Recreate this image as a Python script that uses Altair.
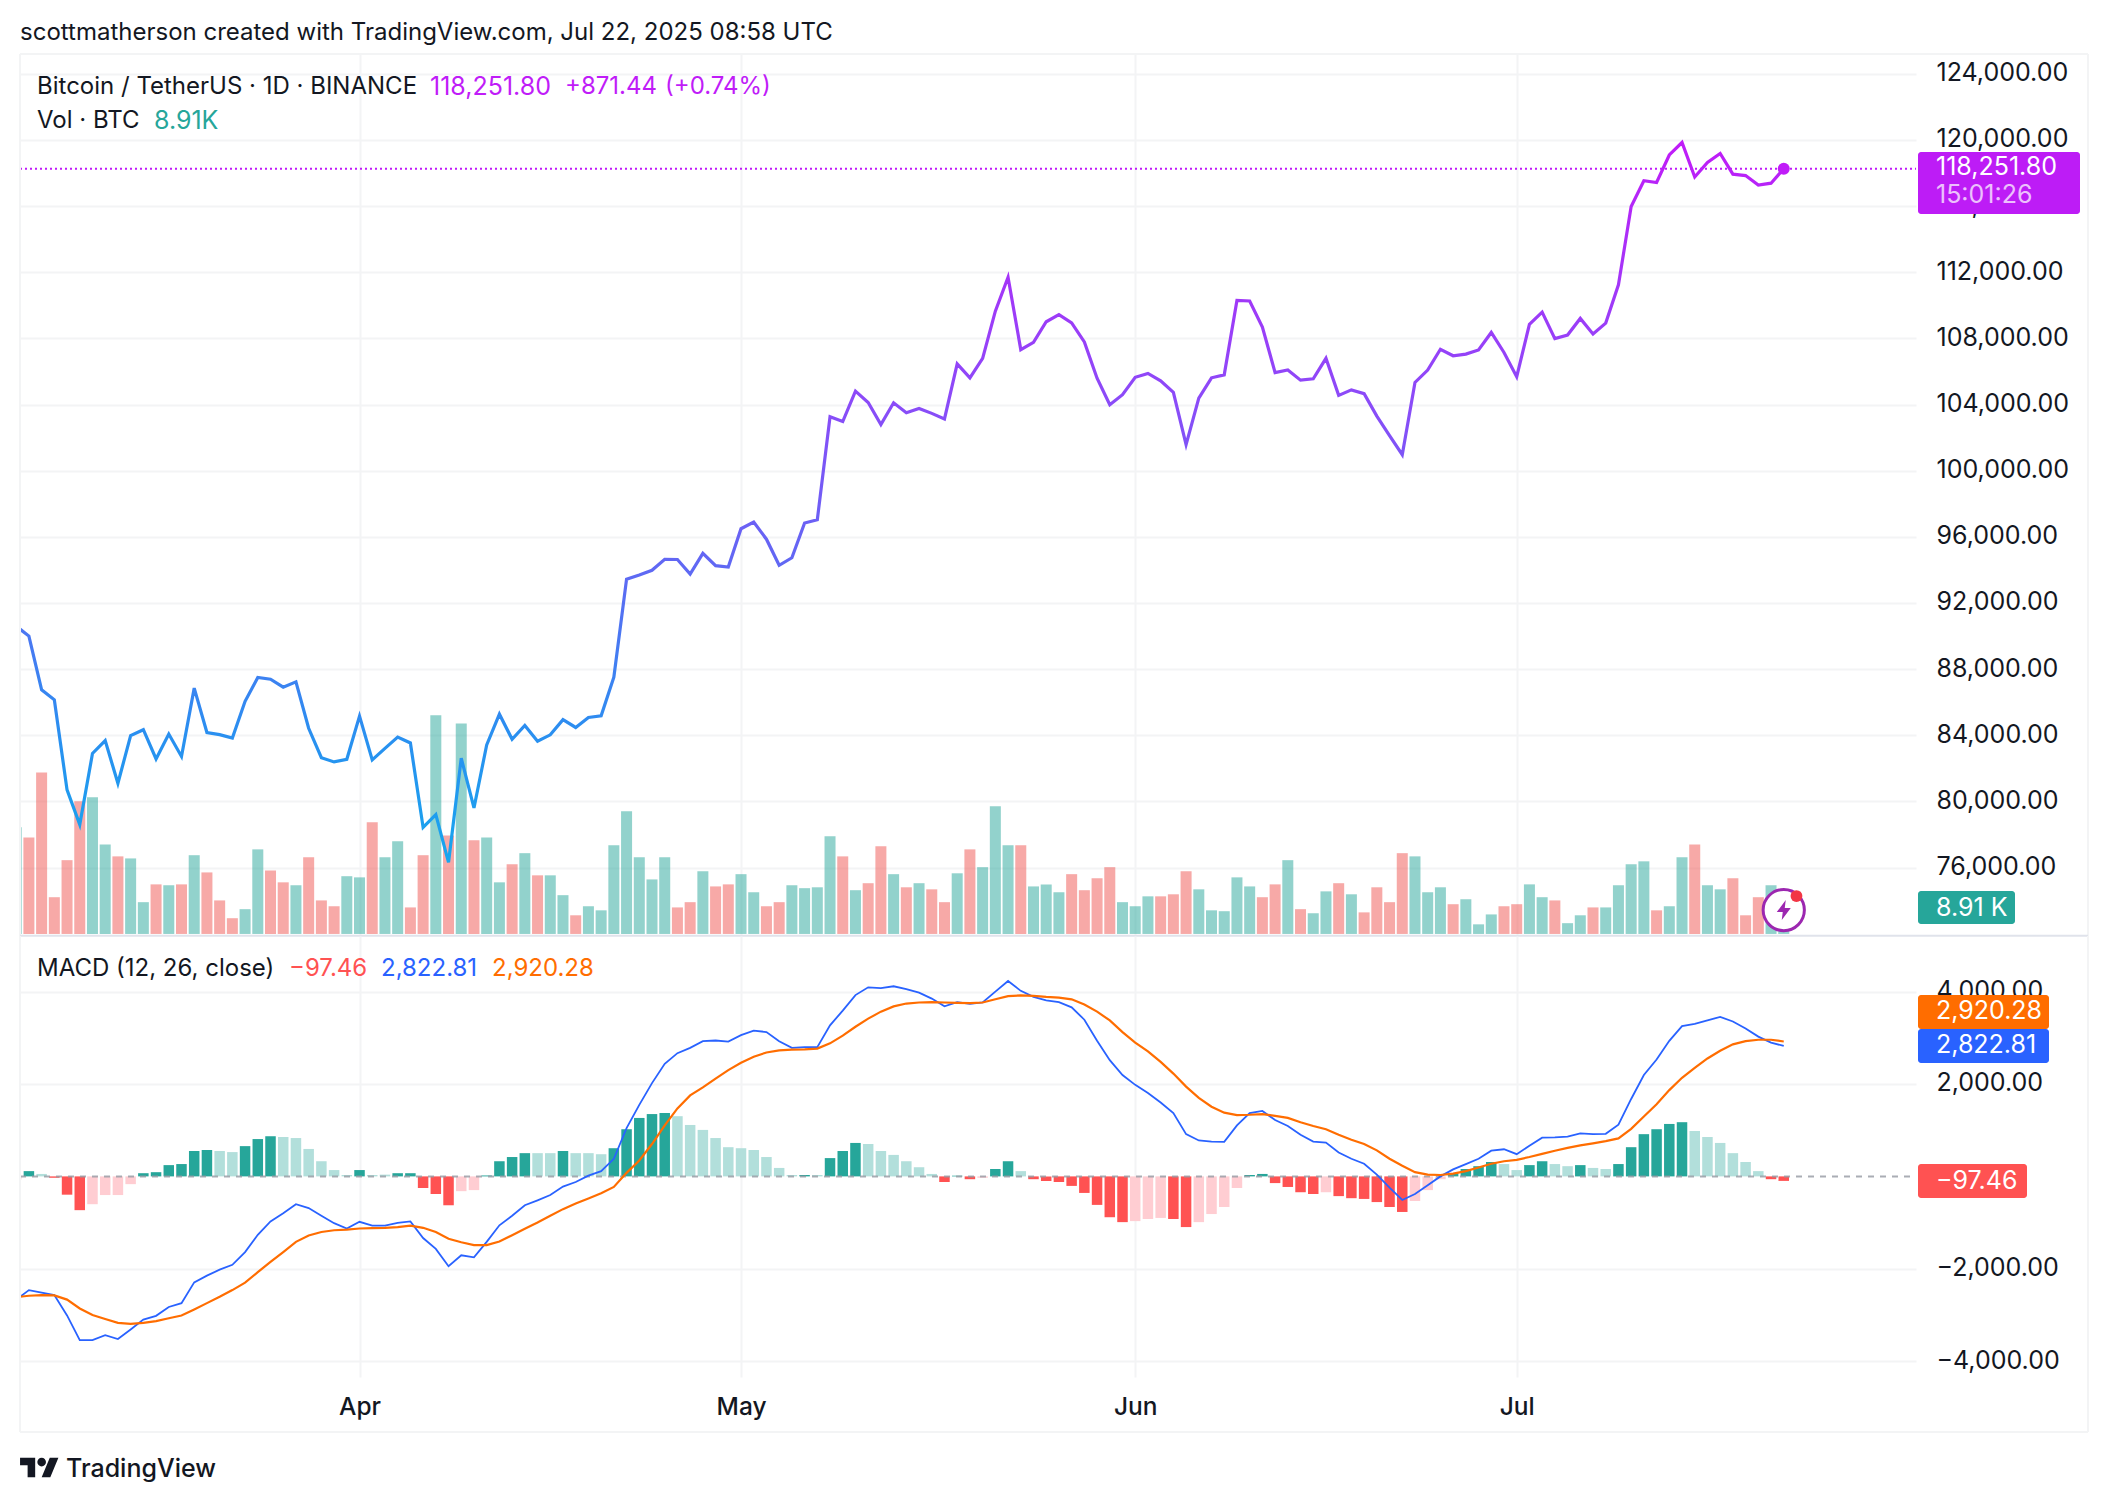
import altair as alt
import pandas as pd

FONT = "Inter"
INK = "#131722"
SZ = 24
NUM = 25
TEAL = "#26a69a"
RED = "#ef5350"

dates = [d.strftime("%Y-%m-%d") for d in pd.date_range("2025-03-05", "2025-07-22")]

close = [
    90600, 90000, 86747, 86150, 80700, 78600, 82900, 83680, 81100, 83980, 84340, 82570, 84075, 82718,
    86854, 84167, 84043, 83832, 86054, 87498, 87392, 86909, 87232, 84424, 82648, 82390, 82550,
    85158, 82516, 83213, 83889, 83537, 78430, 79207, 76322, 82615, 79607, 83423, 85276, 83760, 84591,
    83643, 84030, 84947, 84474, 85077, 85179, 87516, 93442, 93691, 93980, 94638, 94628, 93750, 95000,
    94256, 94172,
    96489, 96887, 95856, 94277, 94733, 96834, 97032, 103261, 102971, 104809, 104118, 102791, 104103,
    103507, 103763, 103463, 103126, 106454, 105606, 106791, 109643, 111696, 107318, 107761, 109004,
    109434, 108938, 107781, 105589, 103985, 104591,
    105642, 105882, 105432, 104731, 101575, 104390, 105615, 105793, 110295, 110257, 108686, 105929,
    106090, 105472, 105552, 106794, 104551, 104886, 104658, 103298, 102120, 100963, 105333, 106083,
    107340, 106947, 107047, 107296, 108356, 107146,
    105681, 108849, 109584, 107984, 108198, 109203, 108262, 108922, 111233, 115969, 117527, 117420,
    119086, 119841, 117758, 118630, 119177, 117924, 117840, 117265, 117380, 118251.8,
]

volume = [
    36.6, 33.1, 55.4, 12.6, 25.3, 45.5, 46.9, 30.7, 26.6, 25.9, 10.9, 17.0, 16.7, 17.0, 27.0, 21.1, 11.5,
    5.4, 8.5, 29.0, 21.8, 17.7, 16.7, 26.3, 11.5, 9.5, 19.8,
    19.4, 38.3, 26.3, 31.8, 9.1, 27.0, 75.0, 33.8, 72.2, 32.1, 33.1, 17.7, 23.9, 27.7, 20.1, 20.1, 13.3,
    6.4, 9.5, 8.1, 30.4, 42.1, 26.3, 18.7, 26.3, 9.1, 10.9, 21.5, 16.3, 17.0,
    20.5, 14.3, 9.5, 10.9, 16.7, 15.7, 16.0, 33.5, 26.6, 15.0, 17.4, 30.1, 20.5, 16.0, 17.4, 15.3, 10.9,
    20.8, 29.0, 22.9, 43.8, 30.4, 30.4, 16.3, 17.0, 14.3, 20.5, 15.0, 19.1, 22.9, 10.9,
    9.5, 12.9, 12.9, 13.6, 21.5, 15.3, 8.1, 7.8, 19.4, 16.3, 12.6, 17.0, 25.3, 8.5, 7.1, 14.6, 17.4, 13.6,
    7.4, 16.0, 10.9, 27.7, 26.6, 14.3, 16.0, 10.2, 11.9, 3.3, 6.7, 9.5,
    10.2, 17.0, 12.6, 11.5, 3.7, 6.4, 9.1, 9.1, 16.7, 23.9, 24.9, 8.1, 9.5, 26.3, 30.7, 16.7, 15.3, 19.1,
    6.4, 12.6, 16.7, 8.91,
]

vol_up = (
    "U" "D" "D" "D" "D" "D" "U" "U" "D" "U" "U" "D" "U" "D" "U" "D" "D" "D" "U" "U" "D" "D" "U" "D" "D" "D" "U"
    "U" "D" "U" "U" "D" "D" "U" "D" "U" "D" "U" "U" "D" "U" "D" "U" "U" "D" "U" "U" "U" "U" "U" "U" "U" "D" "D" "U" "D" "D"
    "U" "U" "D" "D" "U" "U" "U" "U" "D" "U" "D" "D" "U" "D" "U" "D" "D" "U" "D" "U" "U" "U" "D" "U" "U" "U" "D" "D" "D" "D" "U"
    "U" "U" "D" "D" "D" "U" "U" "U" "U" "U" "D" "D" "U" "D" "U" "U" "D" "U" "D" "D" "D" "D" "U" "U" "U" "D" "U" "U" "U" "D"
    "D" "U" "U" "D" "U" "U" "D" "U" "U" "U" "U" "D" "U" "U" "D" "U" "U" "D" "D" "D" "U" "U"
)

macd = [
    -2667, -2461, -2515, -2568, -3010, -3543, -3543, -3437, -3520, -3315, -3101, -3018, -2827, -2743,
    -2294, -2149, -2019, -1913, -1638, -1265, -975, -800, -602, -686, -853, -1013, -1128,
    -983, -1067, -1067, -1006, -975, -1334, -1570, -1943, -1707, -1753, -1417, -1059, -853, -625, -518,
    -404, -221, -122, 15, 114, 381, 1044, 1547, 2019, 2438, 2667, 2781, 2926, 2941, 2918,
    3056, 3155, 3124, 2926, 2781, 2797, 2797, 3269, 3589, 3924, 4092, 4077, 4115, 4054, 3978, 3848, 3680,
    3772, 3734, 3764, 4000, 4229, 4016, 3886, 3810, 3772, 3658, 3391, 2934, 2515, 2195,
    1981, 1806, 1600, 1372, 914, 777, 754, 747, 1105, 1372, 1417, 1219, 1090, 899, 754, 732, 518, 381, 274,
    38, -244, -511, -381, -191, 0, 152, 267, 381, 556, 587,
    480, 663, 838, 846, 861, 930, 914, 922, 1120, 1676, 2195, 2530, 2934, 3254, 3299, 3376, 3452, 3353,
    3200, 3025, 2896, 2822.81,
]

signal = [
    -2614, -2583, -2568, -2576, -2667, -2858, -3002, -3086, -3170, -3193, -3170, -3132, -3071, -3010,
    -2880, -2743, -2606, -2461, -2301, -2073, -1852, -1638, -1417, -1280, -1204, -1166, -1151,
    -1128, -1120, -1113, -1097, -1067, -1113, -1204, -1349, -1425, -1486, -1486, -1410, -1273, -1135, -998,
    -853, -709, -587, -480, -366, -229, 76, 343, 701, 1105, 1471, 1753, 1928, 2118, 2301,
    2461, 2591, 2682, 2728, 2743, 2751, 2766, 2880, 3048, 3239, 3414, 3566, 3680, 3741, 3764, 3772, 3764,
    3757, 3749, 3764, 3833, 3901, 3917, 3909, 3886, 3871, 3833, 3719, 3566, 3376, 3124,
    2896, 2705, 2477, 2225, 1943, 1699, 1509, 1379, 1326, 1334, 1349, 1311, 1265, 1173, 1090, 1021, 899,
    792, 701, 564, 381, 229, 91, 38, 30, 61, 114, 191, 274, 328,
    358, 419, 488, 556, 617, 671, 716, 762, 823, 1029, 1295, 1562, 1867, 2134, 2347, 2553, 2720, 2858,
    2926, 2957, 2957, 2920.28,
]

hist = [
    -70, 114, 53, -30, -396, -731, -602, -404, -404, -168, 69, 91, 244, 267, 549, 571, 549, 526, 655, 808,
    869, 853, 830, 594, 328, 137, 30,
    137, 30, 38, 69, 69, -251, -381, -625, -320, -297, 20, 328, 419, 503, 503, 503, 549, 503, 503, 480, 610,
    1021, 1265, 1349, 1372, 1303, 1113, 1006, 830, 632,
    610, 571, 419, 183, 30, 30, 30, 396, 549, 724, 701, 549, 465, 328, 198, 53, -122, 15, -61, -30, 160, 328,
    114, -61, -99, -122, -206, -358, -617, -884, -990,
    -968, -922, -899, -922, -1097, -990, -815, -663, -251, 30, 53, -145, -229, -343, -381, -343, -427, -472,
    -488, -556, -663, -770, -533, -297, -61, 69, 160, 221, 312, 267,
    137, 244, 328, 267, 221, 244, 183, 160, 267, 632, 914, 1021, 1135, 1173, 983, 853, 724, 503, 312, 114,
    -61, -97.46,
]

# D rising above zero, L falling above zero, P rising below zero, R falling below zero
hist_kind = (
    "P" "D" "L" "R" "R" "R" "P" "P" "P" "P" "D" "D" "D" "D" "D" "D" "L" "L" "D" "D" "D" "L" "L" "L" "L" "L" "L"
    "D" "L" "L" "D" "D" "R" "R" "R" "P" "P" "D" "D" "D" "D" "L" "L" "D" "L" "L" "L" "D" "D" "D" "D" "D" "L" "L" "L" "L" "L"
    "L" "L" "L" "L" "L" "D" "L" "D" "D" "D" "L" "L" "L" "L" "L" "L" "R" "D" "R" "P" "D" "D" "L" "R" "R" "R" "R" "R" "R" "R" "R"
    "P" "P" "P" "R" "R" "P" "P" "P" "P" "D" "D" "R" "R" "R" "R" "P" "R" "R" "R" "R" "R" "R" "P" "P" "P" "D" "D" "D" "D" "L"
    "L" "D" "D" "L" "L" "D" "L" "L" "D" "D" "D" "D" "D" "D" "L" "L" "L" "L" "L" "L" "R" "R"
)

price_ticks = [76000, 80000, 84000, 88000, 92000, 96000, 100000, 104000, 108000, 112000, 116000, 120000, 124000]
macd_ticks = [-4000, -2000, 2000, 4000]
month_ticks = ["2025-04-01", "2025-05-01", "2025-06-01", "2025-07-01"]

assert all(len(s) == 140 for s in (dates, close, volume, vol_up, macd, signal, hist, hist_kind))

df = pd.DataFrame({
    "date": dates, "close": close, "volume": volume, "dir": list(vol_up),
    "macd": macd, "signal": signal, "hist": hist, "kind": list(hist_kind),
})

W, H1, H2 = 1896, 882, 441
GRID = "#f3f4f5"
ms = lambda s: int(pd.Timestamp(s, tz="UTC").value // 10**6)
x_scale = alt.Scale(type="utc", domain=[ms("2025-03-05 07:12"), ms("2025-08-01 09:36")], padding=0)
month_vals = [ms(m) for m in month_ticks]
price_scale = alt.Scale(domain=[71866, 125191], nice=False, zero=False)
vol_scale = alt.Scale(domain=[-0.7, 301.7], nice=False, zero=False)
macd_scale = alt.Scale(domain=[-4342, 5203], nice=False, zero=False)

x_top = alt.X("date:T", scale=x_scale, title=None,
              axis=alt.Axis(values=month_vals, labels=False, ticks=False, domain=False, grid=True,
                            gridColor=GRID, gridWidth=2))
x_bot = alt.X("date:T", scale=x_scale, title=None,
              axis=alt.Axis(values=month_vals, format="%b", ticks=False, domain=False, grid=True,
                            gridColor=GRID, gridWidth=2, labelFont=FONT, labelFontSize=24.5, labelFontWeight=500,
                            labelColor=INK, labelPadding=18, labelFlush=False))


def y_axis(vals):
    return alt.Axis(values=vals, format=",.2f", orient="right", ticks=False, domain=False, grid=True,
                    gridColor=GRID, gridWidth=2, labelFont=FONT, labelFontSize=NUM, labelColor=INK,
                    labelPadding=20, labelOffset=-1, title=None, labelOverlap=False)


one = pd.DataFrame({"a": [0]})


def txt(s, x, y, color=INK, size=SZ, weight=400, opacity=1.0):
    return alt.Chart(pd.DataFrame({"t": [s]})).mark_text(
        align="left", baseline="middle", font=FONT, fontSize=size, fontWeight=weight, color=color, opacity=opacity
    ).encode(x=alt.value(x), y=alt.value(y), text="t:N")


def box(x, x2, y, y2, color):
    return alt.Chart(one).mark_rect(color=color, cornerRadius=3).encode(
        x=alt.value(x), x2=alt.value(x2), y=alt.value(y), y2=alt.value(y2))


def hline(x, x2, y, color, width=2):
    return alt.Chart(one).mark_rule(color=color, strokeWidth=width).encode(
        x=alt.value(x), x2=alt.value(x2), y=alt.value(y))


def vline(x, y, y2, color, width=2):
    return alt.Chart(one).mark_rule(color=color, strokeWidth=width).encode(
        x=alt.value(x), y=alt.value(y), y2=alt.value(y2))


last = df.tail(1)
base = alt.Chart(df)

gradient = alt.Gradient(
    gradient="linear", x1=0, x2=0, y1=1, y2=0,
    stops=[
        alt.GradientStop(color="#17a6ee", offset=0),
        alt.GradientStop(color="#2a8ff0", offset=0.18),
        alt.GradientStop(color="#5a6cf3", offset=0.38),
        alt.GradientStop(color="#8b4bf8", offset=0.64),
        alt.GradientStop(color="#c01cf8", offset=1),
    ],
)

dotted = alt.Chart(pd.DataFrame({"p": [118251.8]})).mark_rule(
    color="#c01cf8", strokeWidth=2, strokeDash=[2, 3]
).encode(y=alt.Y("p:Q", scale=price_scale, axis=y_axis(price_ticks)), x=alt.value(0), x2=alt.value(W))

bars = base.mark_bar(size=11, opacity=0.5, clip=True).encode(
    x=x_top,
    y=alt.Y("volume:Q", scale=vol_scale, axis=None, stack=None),
    color=alt.Color("dir:N", scale=alt.Scale(domain=["U", "D"], range=[TEAL, RED]), legend=None),
)
price_line = base.mark_line(color=gradient, strokeWidth=3.2, clip=True).encode(
    x=x_top, y=alt.Y("close:Q", scale=price_scale, axis=None))
dot = alt.Chart(last).mark_point(filled=True, color="#c01cf8", size=144, opacity=1).encode(
    x=x_top, y=alt.Y("close:Q", scale=price_scale, axis=None))

ring = alt.Chart(last).mark_point(filled=True, fill="white", stroke="#9c27b0", strokeWidth=3, size=1700, opacity=1).encode(
    x=x_top, y=alt.Y("m:Q", scale=vol_scale, axis=None)).transform_calculate(m="8.2")
bolt = alt.Chart(last).mark_point(
    shape="M2 -10 L-7 2 L-1 2 L-2 10 L7 -2 L1 -2 Z", filled=True, fill="#9c27b0", size=4, opacity=1, strokeWidth=0
).encode(x=x_top, y=alt.Y("m:Q", scale=vol_scale, axis=None)).transform_calculate(m="8.2")
red_dot = alt.Chart(pd.DataFrame({"date": ["2025-07-23"], "m": [13.0]})).mark_point(
    filled=True, color="#f23645", size=140, opacity=1).encode(
    x=x_top, y=alt.Y("m:Q", scale=vol_scale, axis=None))

top = alt.layer(
    dotted,
    bars,
    price_line,
    dot,
    ring,
    bolt,
    red_dot,
    vline(0, 0, H1, GRID),
    hline(0, 2068, 0, GRID),
    vline(2068, 0, H1, GRID),
    hline(0, 2068, H1 - 0.3, "#e0e3eb", 2),
    txt("scottmatherson created with TradingView.com, Jul 22, 2025 08:58 UTC", 0, -21),
    txt("Bitcoin / TetherUS · 1D · BINANCE", 17, 33),
    txt("118,251.80", 410, 33, "#c01cf8", NUM),
    txt("+871.44", 545, 33, "#c01cf8", 24),
    txt("(+0.74%)", 645, 33, "#c01cf8", 24),
    txt("Vol · BTC", 17, 67),
    txt("8.91K", 134, 67, TEAL, NUM),
    box(1898, 2060, 98, 160, "#bd1cf6"),
    txt("118,251.80", 1916, 113, "white", NUM),
    txt("15:01:26", 1916, 141, "white", NUM, opacity=0.72),
    box(1898, 1995, 837, 870, TEAL),
    txt("8.91 K", 1916, 854, "white", NUM),
).resolve_scale(y="independent").properties(width=W, height=H1)

hist_bars = base.mark_bar(size=10.5, clip=True).encode(
    x=x_bot,
    y=alt.Y("hist:Q", scale=macd_scale, axis=y_axis(macd_ticks), stack=None),
    color=alt.Color("kind:N", scale=alt.Scale(domain=["D", "L", "P", "R"],
                                              range=["#26a69a", "#b2dfdb", "#ffcdd2", "#ff5252"]), legend=None),
)
zero = alt.Chart(pd.DataFrame({"z": [0]})).mark_rule(
    color="#9598a1", strokeWidth=2, strokeDash=[6, 6], opacity=0.8
).encode(y=alt.Y("z:Q", scale=macd_scale, axis=None), x=alt.value(0), x2=alt.value(W))
macd_line = base.mark_line(color="#2962ff", strokeWidth=1.8, clip=True).encode(
    x=x_bot, y=alt.Y("macd:Q", scale=macd_scale, axis=None))
signal_line = base.mark_line(color="#ff6d00", strokeWidth=2.2, clip=True).encode(
    x=x_bot, y=alt.Y("signal:Q", scale=macd_scale, axis=None))

logo = alt.Chart(one).mark_point(
    shape="M-4 9 H-11 V-2 H-18 V-9 H-4 V9 Z M10 9 h-8 l7.5 -18 h8 L10 9 Z M-2 -5 a4 4 0 1 0 8 0 a4 4 0 1 0 -8 0 Z",
    filled=True, fill=INK, size=4.67, opacity=1, strokeWidth=0,
).encode(x=alt.value(19.5), y=alt.value(531.5))

bottom = alt.layer(
    hist_bars,
    zero,
    macd_line,
    signal_line,
    vline(0, 0, 496, GRID),
    vline(2068, 0, 496, GRID),
    hline(0, 2068, 496, GRID),
    txt("MACD (12, 26, close)", 17, 32.5),
    txt("−97.46", 269, 32.5, "#ff5252", 24),
    txt("2,822.81", 361, 32.5, "#2962ff", 24),
    txt("2,920.28", 472, 32.5, "#ff6d00", 24),
    box(1898, 2029, 59, 93, "#ff6d00"),
    txt("2,920.28", 1916, 75, "white", NUM),
    box(1898, 2029, 93, 127, "#2962ff"),
    txt("2,822.81", 1916, 109, "white", NUM),
    box(1898, 2007, 228, 262, "#ff5252"),
    txt("−97.46", 1916, 244.5, "white", NUM),
    logo,
    txt("TradingView", 46, 533, size=25, weight=500),
).resolve_scale(y="independent").properties(width=W, height=H2)

chart = alt.vconcat(top, bottom, spacing=0, bounds="flush").resolve_scale(color="independent").properties(
    padding={"left": 11, "top": 13, "right": 0, "bottom": 0},
    background="white",
).configure_view(stroke=None)

chart.save("out.html", embed_options={"renderer": "svg", "actions": False})
